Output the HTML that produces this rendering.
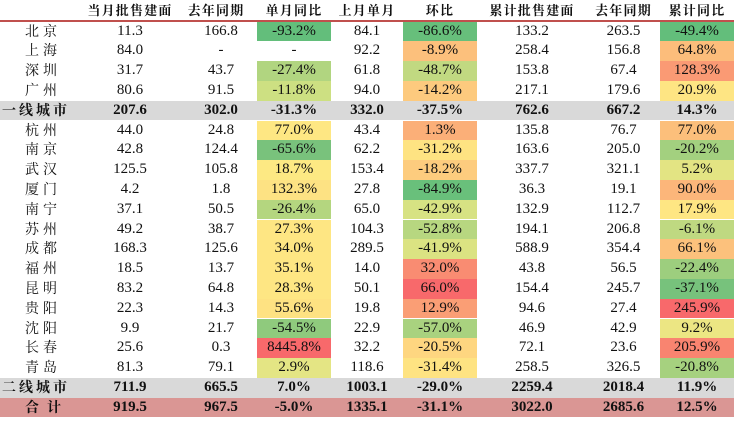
<!DOCTYPE html>
<html><head><meta charset="utf-8">
<style>
body{margin:0;width:734px;height:437px;background:#fff;overflow:hidden;position:relative;font-family:"Liberation Serif","Noto Serif CJK SC",serif;}
.c{position:absolute;text-align:center;font-size:15px;line-height:20px;color:#111;white-space:nowrap;}
.h{font-weight:bold;font-size:13px;letter-spacing:1.2px;font-family:"Noto Serif CJK SC",serif;}
.band{position:absolute;left:0;width:734px;}
</style></head>
<body>
<div class="band" style="top:20px;height:2px;background:#c0504d"></div>
<script>
const colLeft=[0,85,175,257,331,403,477,587,660];
const colRight=[85,175,257,331,403,477,587,660,734];
const headers=["","当月批售建面","去年同期","单月同比","上月单月","环比","累计批售建面","去年同期","累计同比"];
const cities=["北京","上海","深圳","广州","一线城市","杭州","南京","武汉","厦门","南宁","苏州","成都","福州","昆明","贵阳","沈阳","长春","青岛","二线城市","合计"];
const monthSales=["11.3","84.0","31.7","80.6","207.6","44.0","42.8","125.5","4.2","37.1","49.2","168.3","18.5","83.2","22.3","9.9","25.6","81.3","711.9","919.5"];
const lastYearMonth=["166.8","-","43.7","91.5","302.0","24.8","124.4","105.8","1.8","50.5","38.7","125.6","13.7","64.8","14.3","21.7","0.3","79.1","665.5","967.5"];
const monthYoY=["-93.2%","-","-27.4%","-11.8%","-31.3%","77.0%","-65.6%","18.7%","132.3%","-26.4%","27.3%","34.0%","35.1%","28.3%","55.6%","-54.5%","8445.8%","2.9%","7.0%","-5.0%"];
const prevMonth=["84.1","92.2","61.8","94.0","332.0","43.4","62.2","153.4","27.8","65.0","104.3","289.5","14.0","50.1","19.8","22.9","32.2","118.6","1003.1","1335.1"];
const mom=["-86.6%","-8.9%","-48.7%","-14.2%","-37.5%","1.3%","-31.2%","-18.2%","-84.9%","-42.9%","-52.8%","-41.9%","32.0%","66.0%","12.9%","-57.0%","-20.5%","-31.4%","-29.0%","-31.1%"];
const cumSales=["133.2","258.4","153.8","217.1","762.6","135.8","163.6","337.7","36.3","132.9","194.1","588.9","43.8","154.4","94.6","46.9","72.1","258.5","2259.4","3022.0"];
const cumLastYear=["263.5","156.8","67.4","179.6","667.2","76.7","205.0","321.1","19.1","112.7","206.8","354.4","56.5","245.7","27.4","42.9","23.6","326.5","2018.4","2685.6"];
const cumYoY=["-49.4%","64.8%","128.3%","20.9%","14.3%","77.0%","-20.2%","5.2%","90.0%","17.9%","-6.1%","66.1%","-22.4%","-37.1%","245.9%","9.2%","205.9%","-20.8%","11.9%","12.5%"];
const c3=["#63be7b","","#b1d580","#cde082","","#fee783","#79c27c","#fde983","#fde283","#b4d67f","#fee683","#fee683","#fee683","#fee683","#fee282","#8fca7d","#f8696b","#e4e584","",""];
const c5=["#67bf7b","#fcc07c","#c1d981","#fdca7e","","#fbaf78","#fee382","#fdcc7e","#69c07b","#d7e283","#b7d780","#dbe382","#f98c72","#f8696b","#fa9e75","#a9d27f","#fed680","#fee382","",""];
const c8=["#63be7b","#fcbd7b","#fa9a74","#fee583","","#fcbf7b","#a3d07f","#e3e483","#fcb67a","#fee683","#bfd981","#fcc17c","#9dce7e","#77c27c","#f8696b","#ece683","#f98470","#a6d17f","",""];
const cols=[cities,monthSales,lastYearMonth,monthYoY,prevMonth,mom,cumSales,cumLastYear,cumYoY];
const colNames=["city","month-sales","last-year-month","month-yoy","prev-month","mom","cum-sales","cum-last-year","cum-yoy"];
const rowTop=i=>21.5+i*19.8;
const rh=19.8;
function add(el){document.body.appendChild(el);return el;}
headers.forEach((t,j)=>{
  const d=document.createElement('div');
  d.className='c h';
  
  
  d.style.left=colLeft[j]+'px';d.style.width=(colRight[j]-colLeft[j])+'px';d.style.top='0px';
  d.textContent=t;add(d);
});
cities.forEach((city,i)=>{
  const bold=(city==="一线城市"||city==="二线城市"||city==="合计");
  if(bold){
    const b=document.createElement('div');
    b.className='band';
    
    
    b.style.top=rowTop(i)+'px';b.style.height=rh+'px';
    b.style.background=city==="合计"?"#da9694":"#d9d9d9";
    add(b);
  }
  const bg={3:c3[i],5:c5[i],8:c8[i]};
  cols.forEach((arr,j)=>{
    const d=document.createElement('div');
    d.className='c';
    
    
    d.style.top=rowTop(i)+'px';d.style.height=rh+'px';d.style.lineHeight=rh+'px';
    if(j===0){
      if(bold&&city!=="合计"){d.style.left='2px';d.style.textAlign='left';d.style.letterSpacing='3px';}
      else if(city==="合计"){d.style.left='25px';d.style.textAlign='left';d.style.letterSpacing='8px';}
      else{d.style.left='25px';d.style.textAlign='left';d.style.letterSpacing='4px';}
      d.style.fontFamily='"Noto Serif CJK SC",serif';d.style.fontSize='14px';
    }else{
      d.style.left=colLeft[j]+'px';d.style.width=(colRight[j]-colLeft[j])+'px';
      if(j===2)d.style.width=(colRight[j]-colLeft[j]+10)+'px';
      if(bg[j])d.style.background=bg[j];
    }
    if(bold)d.style.fontWeight='bold';
    d.textContent=arr[i];add(d);
  });
});
</script>
</body></html>
